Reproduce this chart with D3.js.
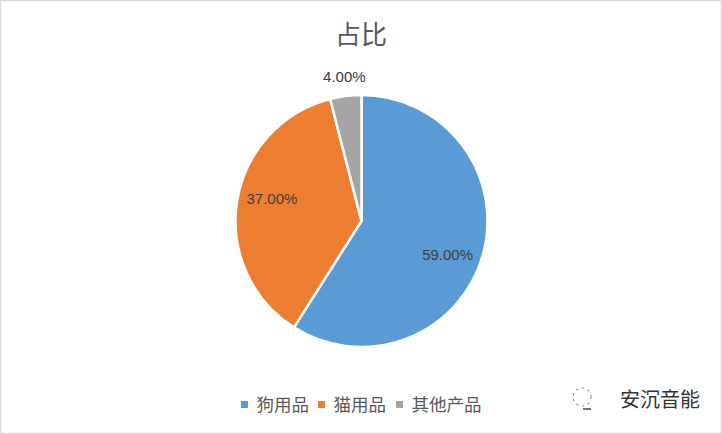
<!DOCTYPE html>
<html><head><meta charset="utf-8">
<script src="https://cdn.jsdelivr.net/npm/d3@7/dist/d3.min.js"></script>
<style>body{margin:0;background:#fff;}svg{display:block;}</style>
</head><body>
<svg id="c" width="722" height="434"></svg>
<script>
const categories = ["狗用品", "猫用品", "其他产品"];
const values = [59, 37, 4];
const labels = ["59.00%", "37.00%", "4.00%"];
const colors = ["#5B9BD5", "#ED7D31", "#A5A5A5"];
const title = "占比";

const svg = d3.select("#c");
const W = 722, H = 434;
svg.append("rect").attr("x",0.5).attr("y",0.5).attr("width",W-1).attr("height",H-1)
  .attr("fill","#fff").attr("stroke","#d9d9d9").attr("stroke-width",1.5);

svg.append("text").attr("x",361).attr("y",44).attr("text-anchor","middle")
  .attr("font-family","'Noto Sans CJK SC', sans-serif").attr("font-size",26)
  .attr("fill","#595959").text(title);

const cx = 361.5, cy = 221, r = 126;
const pie = d3.pie().sort(null).value(d=>d)(values);
const arc = d3.arc().innerRadius(0).outerRadius(r);
const g = svg.append("g").attr("transform",`translate(${cx},${cy})`);
g.selectAll("path").data(pie).join("path").attr("d",arc)
  .attr("fill",(d,i)=>colors[i]).attr("stroke","#fff").attr("stroke-width",2.5);

const labelArc = d3.arc().innerRadius(r*0.72).outerRadius(r*0.72);
const outerArc = d3.arc().innerRadius(r*1.15).outerRadius(r*1.15);
const nudge = [[-1, 8], [0, -8], [1, 0]];
g.selectAll("text.lbl").data(pie).join("text").attr("class","lbl")
  .attr("transform",(d,i)=>{
    const p = (i===2 ? outerArc : labelArc).centroid(d);
    return `translate(${p[0]+nudge[i][0]},${p[1]+nudge[i][1]})`;
  })
  .attr("text-anchor","middle").attr("dy","0.35em")
  .attr("font-family","'Liberation Sans', Arial, sans-serif").attr("font-size",15)
  .attr("fill","#404040").text((d,i)=>labels[i]);

// legend
const legend = svg.append("g").attr("font-family","'Noto Sans CJK SC', sans-serif");
const lx = [241, 318, 396];
categories.forEach((c,i)=>{
  legend.append("rect").attr("x",lx[i]).attr("y",401).attr("width",7).attr("height",7).attr("fill",colors[i]);
  legend.append("text").attr("x",lx[i]+15.5).attr("y",411).attr("font-size",17.5).attr("fill","#595959").text(c);
});

// watermark
const wm = svg.append("g").attr("transform","translate(582,397)");
wm.append("circle").attr("r",9).attr("fill","none").attr("stroke","#888").attr("stroke-width",1.2).attr("stroke-dasharray","2,4");
wm.append("line").attr("x1",1).attr("y1",12).attr("x2",9).attr("y2",12).attr("stroke","#444").attr("stroke-width",1.5);
svg.append("text").attr("x",620).attr("y",407).attr("font-family","'Noto Sans CJK SC', sans-serif")
  .attr("font-size",20).attr("fill","#333").text("安沉音能");
</script>
</body></html>
